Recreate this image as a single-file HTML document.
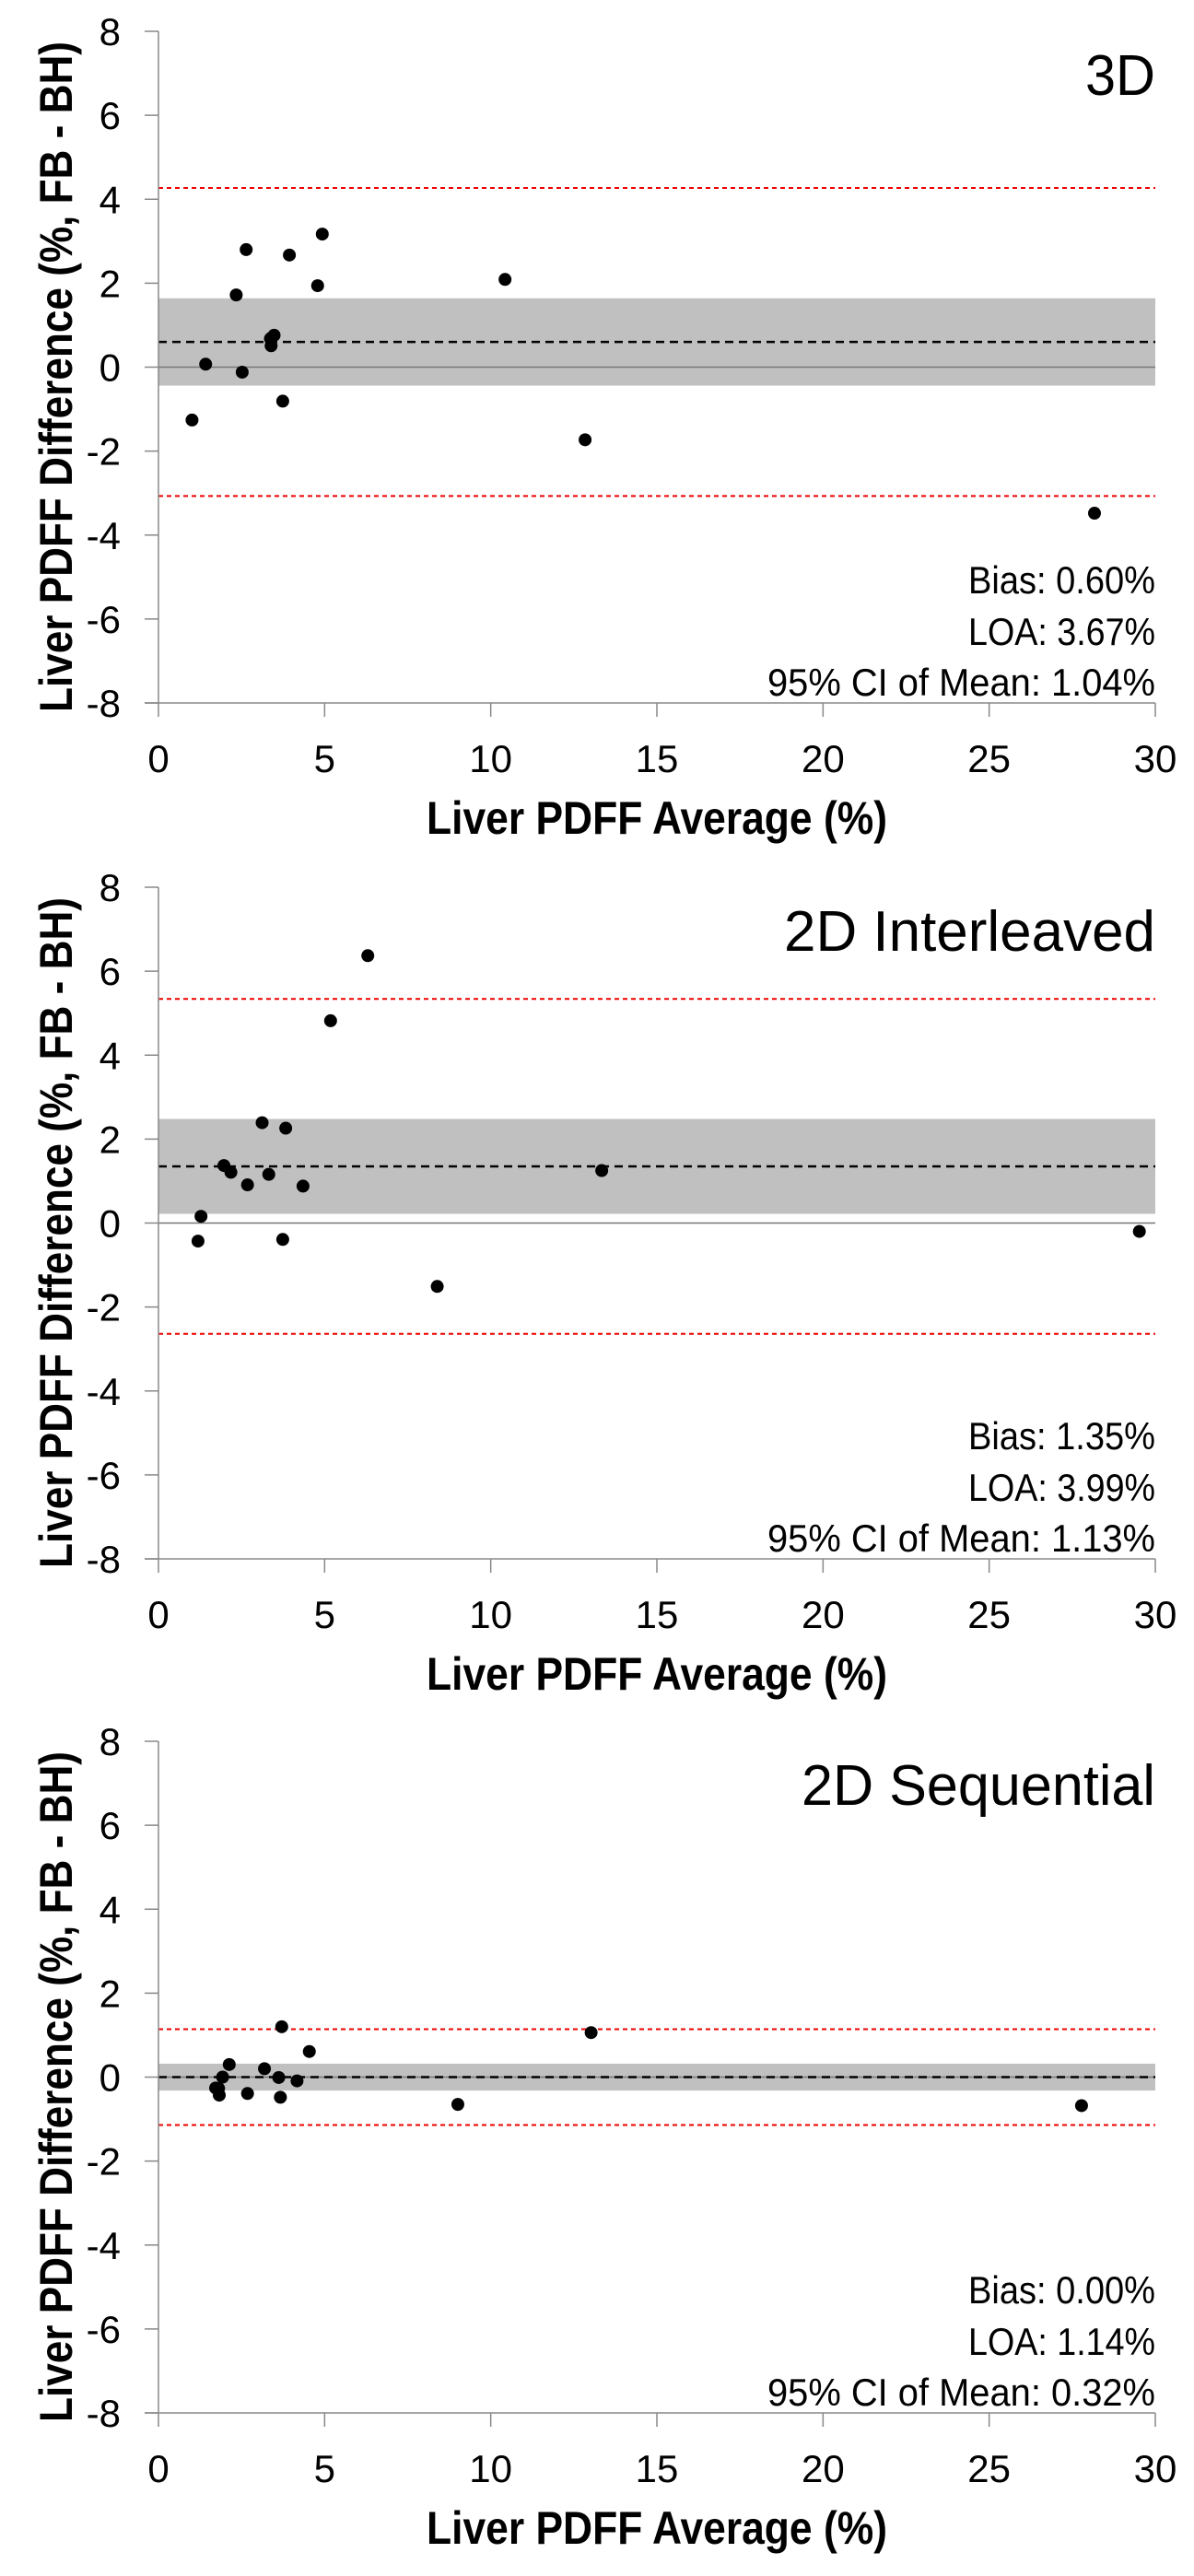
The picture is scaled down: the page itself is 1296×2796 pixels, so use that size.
<!DOCTYPE html>
<html><head><meta charset="utf-8"><style>
html,body{margin:0;padding:0;background:#fff;}
svg{display:block;font-family:"Liberation Sans Narrow","Liberation Sans",sans-serif;}
</style></head><body>
<svg id="chart" width="1296" height="2796" viewBox="0 0 1296 2796" xmlns="http://www.w3.org/2000/svg"></svg>
<script>
const xTicks = [0, 5, 10, 15, 20, 25, 30];
const yTicks = [8, 6, 4, 2, 0, -2, -4, -6, -8];
const panelTitles = ["3D", "2D Interleaved", "2D Sequential"];
const biasValues = [0.60, 1.35, 0.00];
const loaValues = [3.67, 3.99, 1.14];
const ciValues = [1.04, 1.13, 0.32];
const avg3D = [1.01,1.42,2.34,2.52,2.64,3.39,3.37,3.48,3.74,3.94,4.79,4.93,10.43,12.84,28.17];
const diff3D = [-1.26,0.07,1.72,-0.12,2.80,0.51,0.68,0.76,-0.81,2.67,1.94,3.17,2.09,-1.73,-3.48];
const avgInt = [1.19,1.28,1.97,2.18,2.68,3.12,3.32,3.74,3.83,4.35,5.18,6.30,8.39,13.34,29.52];
const diffInt = [-0.43,0.16,1.37,1.21,0.91,2.39,1.16,-0.39,2.26,0.88,4.82,6.37,-1.51,1.25,-0.20];
const avgSeq = [1.72,1.81,1.83,1.93,2.13,2.68,3.19,3.62,3.67,3.71,4.17,4.54,9.01,13.02,27.78];
const diffSeq = [-0.26,-0.27,-0.43,0.00,0.30,-0.39,0.20,-0.01,-0.48,1.20,-0.09,0.61,-0.65,1.06,-0.68];

const NS = "http://www.w3.org/2000/svg";
const svg = document.getElementById("chart");
const panelTops = [34, 963, 1890];
const titleWidths = [76, 403, 384];
const X0 = 172, X1 = 1254, PH = 729;
function mk(tag, attrs, parent, text){
  const e = document.createElementNS(NS, tag);
  for (const k in attrs) e.setAttribute(k, attrs[k]);
  if (text !== undefined) e.textContent = text;
  parent.appendChild(e);
  return e;
}
const series = [[avg3D, diff3D],[avgInt, diffInt],[avgSeq, diffSeq]];
for (let p = 0; p < 3; p++) {
  const top = panelTops[p];
  const xs = v => X0 + (v - 0) / 30 * (X1 - X0);
  const ys = v => top + (8 - v) / 16 * PH;
  const g = mk("g", {}, svg);
  
  
  const b = biasValues[p], ci = ciValues[p], loa = loaValues[p];
  const band = mk("rect", {x: X0, y: ys(b + ci), width: X1 - X0, height: ys(b - ci) - ys(b + ci), fill: "#c0c0c0"}, g);
  
  
  const zl = mk("line", {x1: X0, x2: X1, y1: ys(0), y2: ys(0), stroke: "#777", "stroke-width": 1.5}, g);
  
  
  const bl = mk("line", {x1: X0, x2: X1, y1: ys(b), y2: ys(b), stroke: "#000", "stroke-width": 2.5, "stroke-dasharray": "9 6"}, g);
  
  
  [b + loa, b - loa].forEach((v, i) => {
    const l = mk("line", {x1: X0, x2: X1, y1: ys(v), y2: ys(v), stroke: "#e00", "stroke-width": 2, "stroke-dasharray": "5 4"}, g);
    
    
  });
  const ya = mk("line", {x1: X0, x2: X0, y1: ys(8), y2: ys(-8), stroke: "#888", "stroke-width": 1.5}, g);
  
  
  const xa = mk("line", {x1: X0 - 15, x2: X1, y1: ys(-8), y2: ys(-8), stroke: "#888", "stroke-width": 1.5}, g);
  
  
  yTicks.forEach(v => {
    const t = mk("line", {x1: X0 - 15, x2: X0, y1: ys(v), y2: ys(v), stroke: "#888", "stroke-width": 1.5}, g);
    
    
    const tl = mk("text", {x: 131, y: ys(v) + 15, "text-anchor": "end", "font-size": 42, fill: "#000"}, g, String(v));
    
    
  });
  xTicks.forEach(v => {
    const t = mk("line", {x1: xs(v), x2: xs(v), y1: ys(-8), y2: ys(-8) + 15, stroke: "#888", "stroke-width": 1.5}, g);
    
    
    const tl = mk("text", {x: xs(v), y: ys(-8) + 75, "text-anchor": "middle", "font-size": 42, fill: "#000"}, g, String(v));
    
    
  });
  const [ax, dy] = series[p];
  ax.forEach((v, i) => {
    const c = mk("circle", {cx: xs(v), cy: ys(dy[i]), r: 7, fill: "#000"}, g);
    
    
  });
  const title = mk("text", {x: X1, y: top + 69, "text-anchor": "end", "font-size": 62, fill: "#000", textLength: titleWidths[p], lengthAdjust: "spacingAndGlyphs"}, g, panelTitles[p]);
  
  
  const stats = ["Bias: " + b.toFixed(2) + "%", "LOA: " + loa.toFixed(2) + "%", "95% CI of Mean: " + ci.toFixed(2) + "%"];
  const statWidths = [203, 203, 421];
  const offs = [610, 666, 721];
  stats.forEach((s, i) => {
    const st = mk("text", {x: X1, y: top + offs[i], "text-anchor": "end", "font-size": 42, fill: "#000", textLength: statWidths[i], lengthAdjust: "spacingAndGlyphs"}, g, s);
    
    
  });
  const xt = mk("text", {x: 713, y: ys(-8) + 142, "text-anchor": "middle", "font-size": 50, "font-weight": "bold", fill: "#000", textLength: 500, lengthAdjust: "spacingAndGlyphs"}, g, "Liver PDFF Average (%)");
  
  
  const cy = top + 375;
  const yt = mk("text", {x: 0, y: 0, "text-anchor": "middle", "font-size": 50, "font-weight": "bold", fill: "#000", textLength: 728, lengthAdjust: "spacingAndGlyphs", transform: "translate(78," + cy + ") rotate(-90)", "font-family": "Liberation Sans, sans-serif"}, g, "Liver PDFF Difference (%, FB - BH)");
  
  
}
</script>
</body></html>
